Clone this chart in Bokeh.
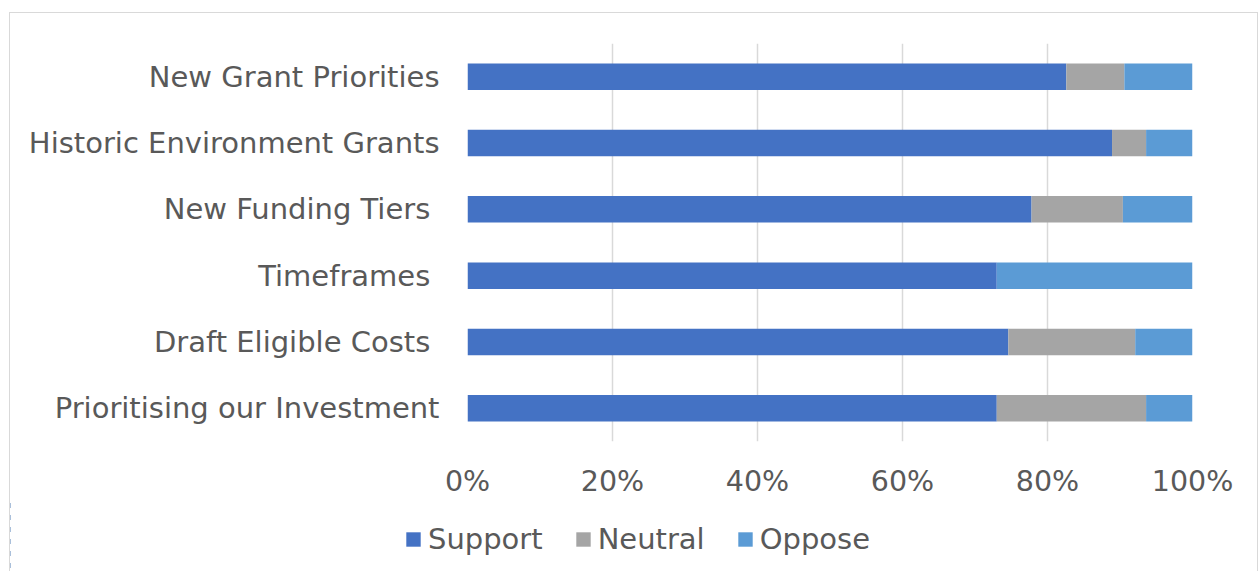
from bokeh.plotting import figure
from bokeh.models import FactorRange, Range1d, NumeralTickFormatter, FixedTicker, Legend, LegendItem
from bokeh.embed import file_html
from bokeh.resources import INLINE

categories = ["New Grant Priorities", "Historic Environment Grants", "New Funding Tiers ",
              "Timeframes ", "Draft Eligible Costs ", "Prioritising our Investment"]
support = [0.826, 0.889, 0.778, 0.730, 0.746, 0.730]
neutral = [0.080, 0.047, 0.126, 0.000, 0.175, 0.206]
oppose = [0.094, 0.064, 0.096, 0.270, 0.079, 0.064]
series = ["Support", "Neutral", "Oppose"]
colors = ["#4472C4", "#A5A5A5", "#5B9BD5"]
x_ticks = [0, 0.2, 0.4, 0.6, 0.8, 1.0]

FONT = "DejaVu Sans"
TXT = "#595959"
BORDER = "1px solid #d9d9d9"

data = dict(cat=categories, Support=support, Neutral=neutral, Oppose=oppose)

# main chart
p = figure(width=1249, height=487, output_backend="svg", toolbar_location=None,
           y_range=FactorRange(*categories[::-1]), x_range=Range1d(0, 1),
           min_border_left=457, min_border_right=67, min_border_top=30, min_border_bottom=57)
p.margin = (12, 0, 0, 9)
p.styles = {"border-top": BORDER, "border-left": BORDER, "border-right": BORDER}
p.hbar_stack(series, y="cat", height=0.4, color=colors, source=data, line_color=None)

p.outline_line_color = None
p.ygrid.grid_line_color = None
p.xgrid.grid_line_color = "#d9d9d9"
p.xgrid.grid_line_width = 1.5
p.xgrid.ticker = FixedTicker(ticks=x_ticks)

p.xaxis.ticker = FixedTicker(ticks=x_ticks)
p.xaxis.formatter = NumeralTickFormatter(format="0%")
for ax in (p.xaxis[0], p.yaxis[0]):
    ax.axis_line_color = None
    ax.major_tick_line_color = None
    ax.minor_tick_line_color = None
    ax.major_tick_out = 0
    ax.major_tick_in = 0
    ax.major_label_text_font = FONT
    ax.major_label_text_color = TXT
p.xaxis.major_label_text_font_size = "28.5px"
p.yaxis.major_label_text_font_size = "29px"
p.xaxis.major_label_standoff = 23
p.yaxis.major_label_standoff = 28
p.yaxis.group_text_font_size = "0px"

# legend strip below the chart
p2 = figure(width=1249, height=72, output_backend="svg", toolbar_location=None,
            y_range=FactorRange(*categories[::-1]), x_range=Range1d(5, 6),
            x_axis_location=None, y_axis_location=None, min_border=0)
p2.margin = (0, 0, 0, 9)
p2.styles = {"border-left": BORDER, "border-right": BORDER}
p2.outline_line_color = None
p2.grid.grid_line_color = None
rs2 = p2.hbar_stack(series, y="cat", height=0.4, color=colors, source=data, line_color=None)

legend = Legend(items=[LegendItem(label=s, renderers=[r]) for s, r in zip(series, rs2)],
                orientation="horizontal", location=(394, 15),
                label_text_font=FONT, label_text_font_size="29px", label_text_color=TXT,
                glyph_width=18, glyph_height=18, label_standoff=6, spacing=31,
                padding=0, margin=0, border_line_color=None, background_fill_alpha=0)
p2.add_layout(legend, "center")

open("out.html", "w").write(file_html([p, p2], INLINE))
